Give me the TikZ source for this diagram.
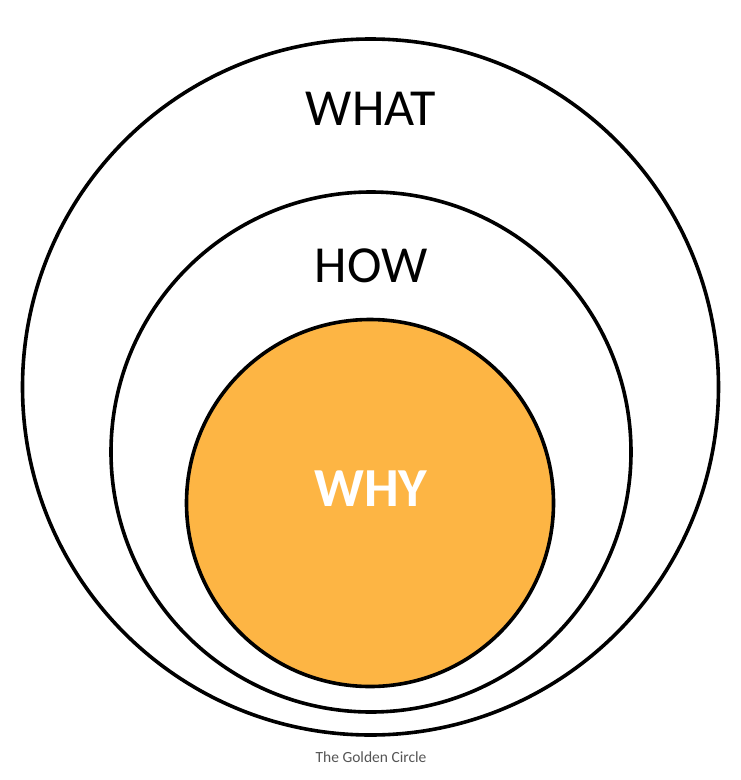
\documentclass[tikz,border=0pt]{standalone}
\usepackage{fontspec}
\setmainfont{Carlito}
\usetikzlibrary{positioning}
\definecolor{gcGold}{HTML}{FDB544}
\definecolor{gcInk}{HTML}{000000}
\definecolor{gcGray}{HTML}{555555}
\tikzset{
 golden/.style={x=1pt,y=-1pt,line join=round},
 ring/.style={circle,draw=gcInk,fill=white,line width=3.6pt,inner sep=0pt},
 core/.style={ring,fill=gcGold},
 word/.style={font=\fontsize{52}{52}\selectfont,text=gcInk,inner sep=0pt},
 coreword/.style={word,font=\bfseries\fontsize{55}{55}\selectfont,text=white},
 caption/.style={font=\fontsize{15.5}{15.5}\selectfont,text=gcGray,inner sep=0pt}
}

\begin{document}
\begin{tikzpicture}[golden]
 \useasboundingbox (0,0) rectangle (740,780);
 % the three rings, outermost first
 \node[ring,minimum size=696] (what) at (370.5,387) {};
 \node[ring,minimum size=520] (how) at (371,452) {};
 \node[core,minimum size=367] (why) at (370,503) {};
 \node[word] (whatText) at (371,109) {WHAT};
 \node[word] (howText) at (371,266) {HOW};
 \node[coreword] (whyText) at (371,489) {WHY};
 \node[caption] (title) at (371,757) {The Golden Circle};
\end{tikzpicture}
\end{document}
